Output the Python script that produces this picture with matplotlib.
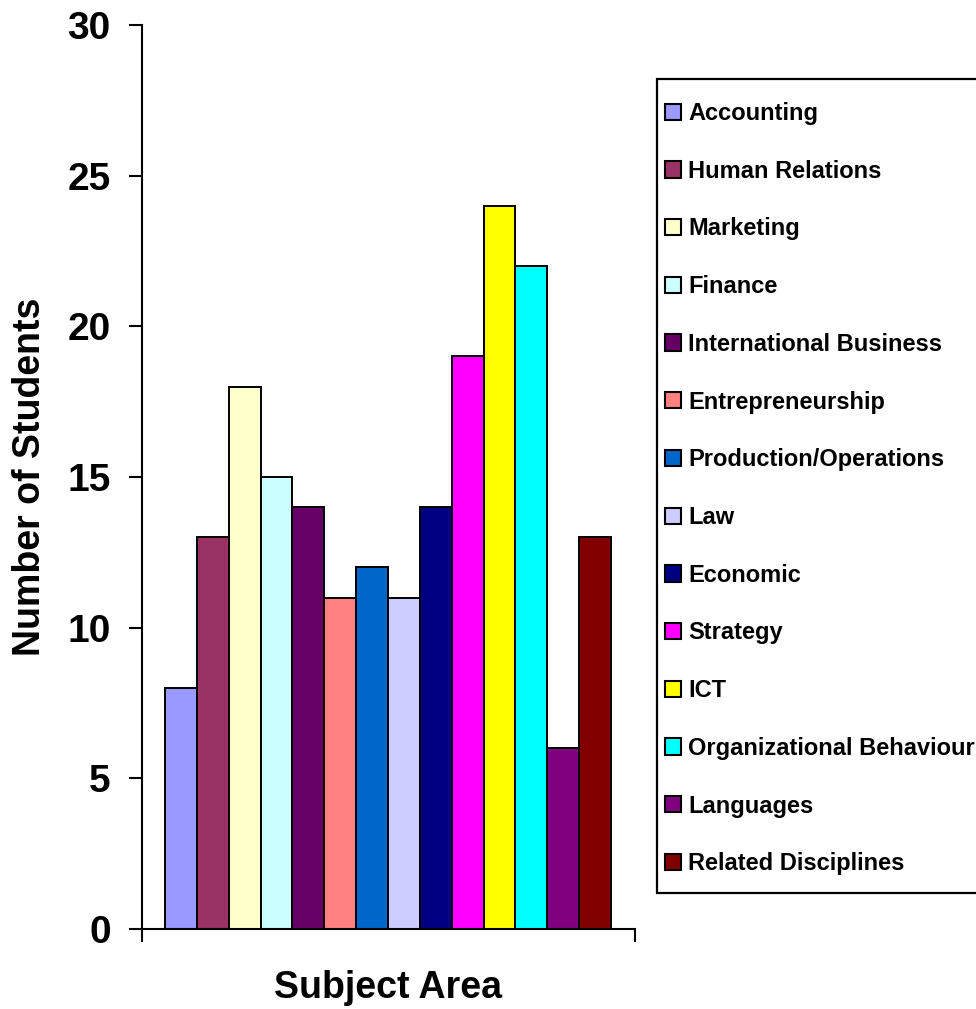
import matplotlib
matplotlib.use("Agg")
import matplotlib.pyplot as plt
from matplotlib.patches import Patch, Rectangle

plt.rcParams['font.family'] = ['Liberation Sans', 'DejaVu Sans']
plt.rcParams['font.weight'] = 'bold'

# Survey data: number of students per subject area
subjects = [
    "Accounting", "Human Relations", "Marketing", "Finance",
    "International Business", "Entrepreneurship", "Production/Operations",
    "Law", "Economic", "Strategy", "ICT", "Organizational Behaviour",
    "Languages", "Related Disciplines",
]
students = [8, 13, 18, 15, 14, 11, 12, 11, 14, 19, 24, 22, 6, 13]
colors = [
    "#9999FF", "#993366", "#FFFFCC", "#CCFFFF", "#660066", "#FF8080",
    "#0066CC", "#CCCCFF", "#000080", "#FF00FF", "#FFFF00", "#00FFFF",
    "#800080", "#800000",
]
y_ticks = [0, 5, 10, 15, 20, 25, 30]

W, H = 976, 1009
fig = plt.figure(figsize=(W / 100, H / 100), dpi=100)
ax = fig.add_axes([142 / W, 1 - 929 / H, (635 - 142) / W, (929 - 25) / H])

xs = list(range(len(subjects)))
ax.bar(xs, students, width=1.0, color=colors, edgecolor="black", linewidth=1.4)

x_lo, x_hi = -1.22, 14.25
ax.set_xlim(x_lo, x_hi)
ax.set_ylim(0, 30)
ax.set_yticks(y_ticks)
ax.set_xticks([x_lo, x_hi])
ax.set_xticklabels([])

for s in ("top", "right"):
    ax.spines[s].set_visible(False)
for s in ("left", "bottom"):
    ax.spines[s].set_linewidth(1.5)
ax.tick_params(axis="y", direction="out", length=9.5, width=1.5,
               labelsize=28, pad=13)
ax.tick_params(axis="x", direction="out", length=9.5, width=1.5)
for lbl in ax.get_yticklabels():
    lbl.set_fontweight("bold")

fig.text(388 / W, 1 - 998 / H, "Subject Area", fontsize=27, fontweight="bold",
         ha="center", va="baseline")
fig.text(40 / W, 1 - 477 / H, "Number of Students", fontsize=27,
         fontweight="bold", rotation=90, rotation_mode="anchor",
         ha="center", va="baseline")

# Legend box runs past the right edge of the figure
frame = Rectangle((657 / W, 1 - 893 / H), (1100 - 657) / W, (893 - 79) / H,
                  transform=fig.transFigure, facecolor="white",
                  edgecolor="black", linewidth=1.6, zorder=1)
fig.patches.append(frame)

handles = [Patch(facecolor=c, edgecolor="black", linewidth=1.5) for c in colors]
leg = fig.legend(handles, subjects, loc="upper left",
                 bbox_to_anchor=(665 / W, 1 - 102 / H),
                 bbox_transform=fig.transFigure,
                 prop={"weight": "bold", "size": 17},
                 frameon=False,
                 handlelength=0.68, handleheight=0.68, handletextpad=0.3,
                 labelspacing=1.47, borderpad=0, borderaxespad=0,
                 ncol=1)
leg.set_zorder(2)

fig.savefig("out.png", dpi=100, facecolor="white")
